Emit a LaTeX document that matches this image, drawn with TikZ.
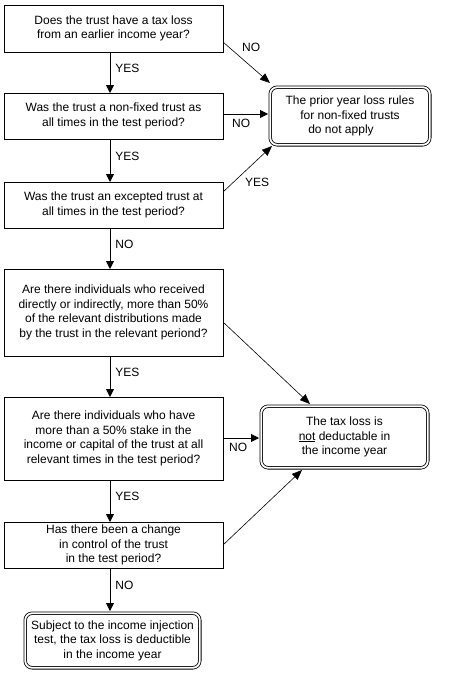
\documentclass[tikz,border=0pt]{standalone}
\usepackage{fontspec}
\setmainfont{Liberation Sans}
\usetikzlibrary{arrows.meta,calc}
\begin{document}
\begin{tikzpicture}[x=1pt,y=-1pt,
  every node/.style={font=\fontsize{12}{14.5}\selectfont},
  qbox/.style={draw,line width=0.9pt,rectangle,inner sep=0pt,outer sep=0pt,align=center},
  tbox/.style={draw,line width=0.8pt,double,double distance=1.8pt,rounded corners=7pt,inner sep=0pt,outer sep=2.2pt,align=center},
  arr/.style={line width=0.9pt,-{Triangle[length=8pt,width=8pt]}},
  darr/.style={line width=0.6pt,-{Triangle[length=10pt,width=8pt]}},
  lbl/.style={inner sep=0pt,anchor=west}]
\useasboundingbox (0,0) rectangle (457,678);
\fill[white] (0,0) rectangle (457,678);
\node[qbox,minimum width=219pt,minimum height=47pt] (b1) at (113.5,28.5) {Does the trust have a tax loss\\from an earlier income year?};
\node[qbox,minimum width=219pt,minimum height=46pt] (b2) at (113.5,116) {Was the trust a non-fixed trust as\\all times in the test period?};
\node[qbox,minimum width=219pt,minimum height=46pt] (b3) at (113.5,205) {Was the trust an excepted trust at\\all times in the test period?};
\node[qbox,minimum width=219pt,minimum height=87pt] (b4) at (113.5,312.5) {Are there individuals who received\\directly or indirectly, more than 50\%\\of the relevant distributions made\\by the trust in the relevant periond?};
\node[qbox,minimum width=219pt,minimum height=83pt] (b5) at (113.5,438.5) {Are there individuals who have\\more than a 50\% stake in the\\income or capital of the trust at all\\relevant times in the test period?};
\node[qbox,minimum width=219pt,minimum height=46pt] (b6) at (113.5,545) {Has there been a change\\in control of the trust\\in the test period?};
\node[tbox,minimum width=174.6pt,minimum height=54.6pt] (b7) at (112.5,640.5) {Subject to the income injection\\test, the tax loss is deductible\\in the income year};
\node[tbox,minimum width=159.6pt,minimum height=57.6pt] (t1) at (350,116) {The prior year loss rules\\for non-fixed trusts\hspace*{8pt}\\do not apply\hspace*{18pt}};
\node[tbox,minimum width=166.6pt,minimum height=61.6pt] (t2) at (344.5,437) {The tax loss is\\\underline{not} deductable in\\the income year};
\coordinate (ax) at (110,0);
\draw[arr] (b1.south -| ax) -- (b2.north -| ax) node[lbl,pos=0.4,xshift=5pt] {YES};
\draw[arr] (b2.south -| ax) -- (b3.north -| ax) node[lbl,pos=0.4,xshift=5pt] {YES};
\draw[arr] (b3.south -| ax) -- (b4.north -| ax) node[lbl,pos=0.4,xshift=5pt] {NO};
\draw[arr] (b4.south -| ax) -- (b5.north -| ax) node[lbl,pos=0.4,xshift=5pt] {YES};
\draw[arr] (b5.south -| ax) -- (b6.north -| ax) node[lbl,pos=0.4,xshift=5pt] {YES};
\draw[arr] (b6.south -| ax) -- (b7.north -| ax) node[lbl,pos=0.4,xshift=5pt] {NO};
\coordinate (s1) at ($(b1.north east)+(0,37)$);
\coordinate (e1) at ($(t1.north west)+(2,-2)$);
\draw[darr] (s1) -- (e1);
\node[lbl] (n1) at (242,47) {NO};
\coordinate (s2) at ($(b2.east)+(0,-2)$);
\draw[arr] (s2) -- (s2 -| t1.west);
\node[lbl] (n2) at (232,123) {NO};
\coordinate (s3) at ($(b3.north east)+(0,10)$);
\coordinate (e3) at ($(t1.south west)+(4,-1)$);
\draw[darr] (s3) -- (e3);
\node[lbl] (n3) at (245,182.5) {YES};
\coordinate (s4) at ($(b4.north east)+(0,53)$);
\coordinate (e4) at ($(t2.north west)+(51,0)$);
\draw[darr] (s4) -- (e4);
\coordinate (s5) at ($(b5.east)+(0,-0.5)$);
\draw[arr] (s5) -- (s5 -| t2.west);
\node[lbl] (n5) at (229,447.5) {NO};
\coordinate (s6) at (b6.east);
\coordinate (e6) at ($(t2.south west)+(43,0)$);
\draw[darr] (s6) -- (e6);
\end{tikzpicture}
\end{document}
